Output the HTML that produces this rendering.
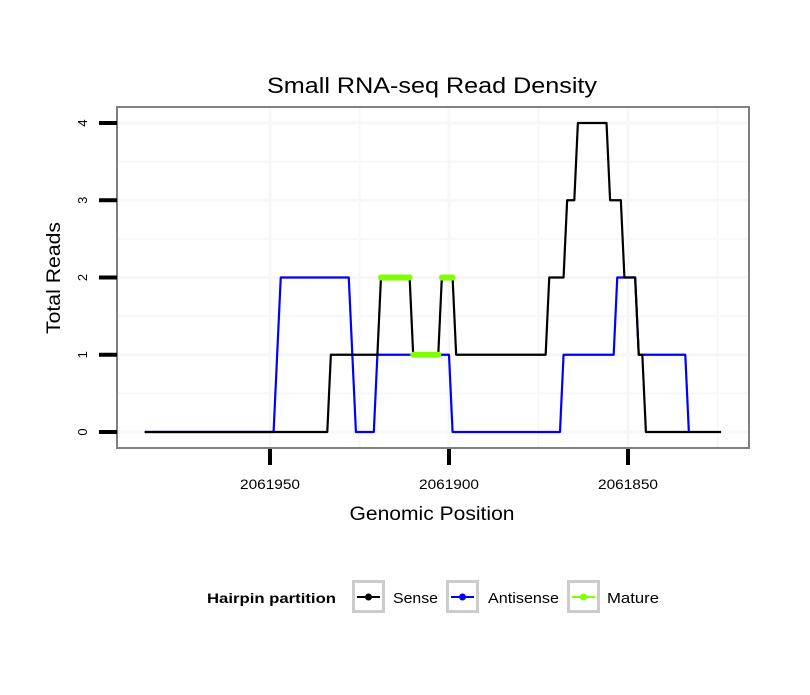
<!DOCTYPE html>
<html><head><meta charset="utf-8"><style>
body{margin:0;background:#fff;}
svg text{font-family:"Liberation Sans",Arial,sans-serif;}
</style></head><body>
<svg id="chart" width="810" height="690" viewBox="0 0 810 690" xmlns="http://www.w3.org/2000/svg">
<text x="432" y="93" text-anchor="middle" font-size="22" textLength="330" lengthAdjust="spacingAndGlyphs" fill="#000">Small RNA-seq Read Density</text>
<g id="grid"></g>
<rect x="117" y="107" width="632" height="341" fill="none" stroke="#808080" stroke-width="2"/>
<g id="series"></g>
<g id="axes"></g>
<text x="432" y="520" text-anchor="middle" font-size="19" textLength="165" lengthAdjust="spacingAndGlyphs">Genomic Position</text>
<text transform="translate(60,278) rotate(-90)" text-anchor="middle" font-size="19" textLength="112" lengthAdjust="spacingAndGlyphs">Total Reads</text>
<g>
<text x="207" y="603" font-size="14" font-weight="bold" textLength="129" lengthAdjust="spacingAndGlyphs">Hairpin partition</text>
<g>
<rect x="353.5" y="581.5" width="30" height="30" fill="#fff" stroke="#ccc" stroke-width="3"/>
<line x1="357" y1="597" x2="380" y2="597" stroke="#000" stroke-width="2"/><circle cx="368.5" cy="597" r="3.5" fill="#000"/>
<text x="393" y="603" font-size="15" textLength="45" lengthAdjust="spacingAndGlyphs">Sense</text></g>
<g>
<rect x="447.5" y="581.5" width="30" height="30" fill="#fff" stroke="#ccc" stroke-width="3"/>
<line x1="451" y1="597" x2="474" y2="597" stroke="#00f" stroke-width="2"/><circle cx="462.5" cy="597" r="3.5" fill="#00f"/>
<text x="488" y="603" font-size="15" textLength="71" lengthAdjust="spacingAndGlyphs">Antisense</text></g>
<g>
<rect x="568.5" y="581.5" width="30" height="30" fill="#fff" stroke="#ccc" stroke-width="3"/>
<line x1="572" y1="597" x2="595" y2="597" stroke="#7fff00" stroke-width="2"/><circle cx="583.5" cy="597" r="3.5" fill="#7fff00"/>
<text x="607" y="603" font-size="15" textLength="52" lengthAdjust="spacingAndGlyphs">Mature</text></g>
</g>
</svg>
<script>
const xTicks=[2061950,2061900,2061850];
const xMinor=[2061925,2061875,2061825];
const yTicks=[0,1,2,3,4];
const sensePos=[2061985,2061934,2061933,2061920,2061919,2061911,2061910,2061903,2061902,2061899,2061898,2061873,2061872,2061868,2061867,2061865,2061864,2061856,2061855,2061852,2061851,2061848,2061847,2061846,2061845,2061824];
const senseVal=[0,0,1,1,2,2,1,1,2,2,1,1,2,2,3,3,4,4,3,3,2,2,1,1,0,0];
const antiPos=[2061985,2061949,2061947,2061928,2061926,2061921,2061920,2061900,2061899,2061869,2061868,2061854,2061853,2061848,2061847,2061834,2061833];
const antiVal=[0,0,2,2,0,0,1,1,0,0,1,1,2,2,1,1,0];
const matStart=[2061919,2061910,2061902];
const matEnd=[2061911,2061903,2061899];
const matVal=[2,1,2];
const NS='http://www.w3.org/2000/svg';
const X=p=>449-(p-2061900)*3.58;
const Y=v=>432-v*77.25;
function mk(tag,attrs,parent){const e=document.createElementNS(NS,tag);for(const k in attrs)e.setAttribute(k,attrs[k]);parent.appendChild(e);return e;}
const grid=document.getElementById('grid'),ser=document.getElementById('series'),ax=document.getElementById('axes');
mk('rect',{x:117,y:107,width:632,height:341,fill:'#fff'},grid);
xMinor.concat(xTicks).forEach(p=>{const l=mk('line',{x1:X(p),x2:X(p),y1:108,y2:447,stroke:'#f7f7f7','stroke-width':xTicks.includes(p)?3:2},grid);

});
for(let v=-0.5;v<=4.5;v+=0.5){if(Y(v)<108||Y(v)>447)continue;const l=mk('line',{x1:118,x2:748,y1:Y(v),y2:Y(v),stroke:'#f7f7f7','stroke-width':Number.isInteger(v)?3:2},grid);

}
function pts(P,V){return P.map((p,i)=>X(p)+','+Y(V[i])).join(' ');}
const a=mk('polyline',{points:pts(antiPos,antiVal),fill:'none',stroke:'#00f','stroke-width':2.2,'stroke-linejoin':'round'},ser);


const s=mk('polyline',{points:pts(sensePos,senseVal),fill:'none',stroke:'#000','stroke-width':2.2,'stroke-linejoin':'round'},ser);


matStart.forEach((p,i)=>{const m=mk('line',{x1:X(p),x2:X(matEnd[i]),y1:Y(matVal[i]),y2:Y(matVal[i]),stroke:'#7fff00','stroke-width':6,'stroke-linecap':'round'},ser);

});
xTicks.forEach(p=>{const t=mk('line',{x1:X(p),x2:X(p),y1:449,y2:465,stroke:'#000','stroke-width':4},ax);


const tx=mk('text',{x:X(p),y:489,'text-anchor':'middle','font-size':14,textLength:60,lengthAdjust:'spacingAndGlyphs'},ax);tx.textContent=p;

});
yTicks.forEach(v=>{const t=mk('line',{x1:99,x2:117,y1:Y(v),y2:Y(v),stroke:'#000','stroke-width':4},ax);


const tx=mk('text',{transform:`translate(87,${Y(v)}) rotate(-90)`,'text-anchor':'middle','font-size':13},ax);tx.textContent=v;

});
</script>
</body></html>
